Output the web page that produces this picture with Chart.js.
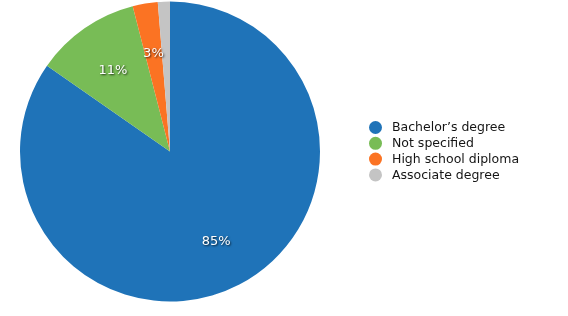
<!DOCTYPE html>
<html>
<head>
<meta charset="utf-8">
<script src="https://cdn.jsdelivr.net/npm/chart.js@4"></script>
<style>
  html, body { margin: 0; padding: 0; background: #fff; }
  #wrap { width: 568px; height: 316px; }
</style>
</head>
<body>
<div id="wrap"><canvas id="degree-chart" width="568" height="316"></canvas></div>
<script>
const degreeLabels = ["Bachelor’s degree", "Not specified", "High school diploma", "Associate degree"]
const degreeShares = [84.7, 11.3, 2.7, 1.3]
const degreeColors = ["#1f73b8", "#78bc56", "#fb7323", "#c4c4c4"]

// percent labels inside slices, 2/3 of the radius out
const sliceLabels = {
    id: 'sliceLabels',
    afterDatasetsDraw(chart) {
        const ctx = chart.ctx
        const values = chart.data.datasets[0].data
        const total = values.reduce((a, b) => a + b, 0)
        ctx.save()
        ctx.font = '13px "DejaVu Sans", Verdana, sans-serif'
        ctx.fillStyle = '#fff'
        ctx.textAlign = 'center'
        ctx.textBaseline = 'middle'
        ctx.shadowColor = 'rgba(0,0,0,0.75)'
        ctx.shadowBlur = 2
        ctx.shadowOffsetX = 1
        ctx.shadowOffsetY = 1
        chart.getDatasetMeta(0).data.forEach((arc, i) => {
            const pct = Math.round(values[i] / total * 100)
            if (pct < 2) return
            const mid = (arc.startAngle + arc.endAngle) / 2
            const r = arc.outerRadius * 2 / 3
            ctx.fillText(pct + '%', arc.x + Math.cos(mid) * r, arc.y + Math.sin(mid) * r + 1)
        })
        ctx.restore()
    }
}

// legend at the right, circles + text
const sideLegend = {
    id: 'sideLegend',
    afterDraw(chart) {
        const ctx = chart.ctx
        const colors = chart.data.datasets[0].backgroundColor
        ctx.save()
        ctx.font = '12.5px "DejaVu Sans", Verdana, sans-serif'
        ctx.textBaseline = 'middle'
        chart.data.labels.forEach((label, i) => {
            const y = 127.5 + i * 15.8
            ctx.fillStyle = colors[i]
            ctx.beginPath()
            ctx.arc(375.5, y, 6.5, 0, Math.PI * 2)
            ctx.fill()
            ctx.fillStyle = '#151515'
            ctx.fillText(label, 392, y + 0.5)
        })
        ctx.restore()
    }
}

new Chart(document.getElementById("degree-chart"), {
    type: 'pie',
    data: {
        labels: degreeLabels,
        datasets: [{
            data: degreeShares,
            backgroundColor: degreeColors,
            borderWidth: 0,
            hoverOffset: 0
        }]
    },
    options: {
        responsive: false,
        animation: false,
        layout: { padding: { left: 20, right: 248, top: 1, bottom: 14 } },
        plugins: {
            legend: { display: false },
            tooltip: { enabled: false }
        }
    },
    plugins: [sliceLabels, sideLegend]
})
</script>
</body>
</html>
